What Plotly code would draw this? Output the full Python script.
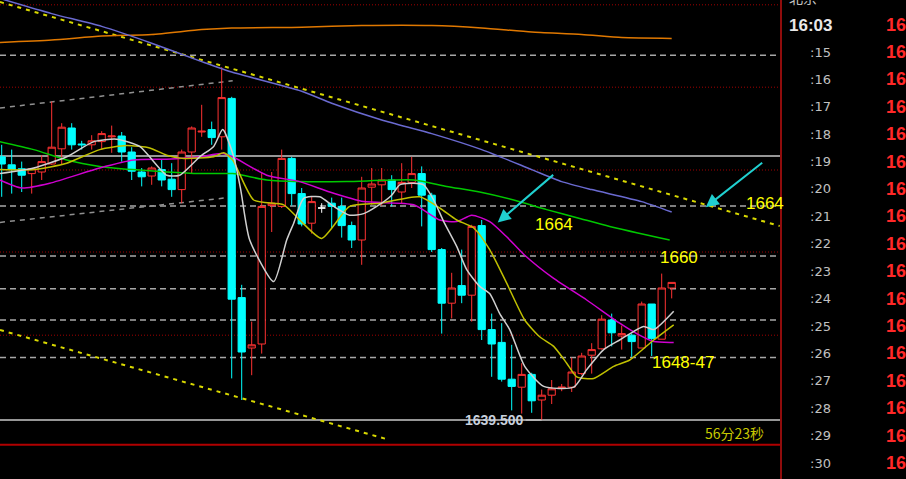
import plotly.graph_objects as go

# ---------------- data ----------------
idx = list(range(68))
opens = [1672.4, 1671.4, 1670.9, 1670.3, 1670.5, 1671.5, 1673.4, 1676.0, 1674.0, 1673.9,
         1674.3, 1674.9, 1675.0, 1673.0, 1670.5, 1670.0, 1670.8, 1669.6, 1668.3, 1673.0,
         1675.5, 1675.8, 1674.9, 1679.7, 1654.8, 1648.5, 1649.0, 1666.3, 1666.2, 1672.2,
         1667.8, 1664.1, 1666.0, 1666.6, 1666.2, 1663.8, 1662.0, 1668.6, 1668.9, 1669.5,
         1668.0, 1669.2, 1670.3, 1667.6, 1660.8, 1654.1, 1656.3, 1655.1, 1663.8, 1650.8,
         1649.2, 1644.6, 1643.6, 1645.2, 1642.0, 1642.6, 1643.5, 1643.6, 1645.3, 1647.6,
         1648.4, 1652.0, 1650.0, 1650.1, 1648.5, 1654.0, 1649.6, 1656.0]
highs = [1673.9, 1673.3, 1671.8, 1671.0, 1672.6, 1679.3, 1676.6, 1676.6, 1674.4, 1675.1,
         1675.6, 1676.3, 1675.5, 1673.6, 1671.0, 1671.2, 1672.0, 1671.6, 1673.3, 1676.2,
         1678.9, 1676.8, 1683.6, 1679.9, 1656.4, 1651.8, 1670.5, 1670.5, 1673.3, 1672.4,
         1668.5, 1667.4, 1666.6, 1667.3, 1667.3, 1664.3, 1669.9, 1671.0, 1671.0, 1670.1,
         1671.6, 1672.4, 1671.2, 1667.9, 1661.0, 1657.9, 1660.8, 1663.9, 1664.5, 1652.8,
         1651.6, 1648.9, 1646.6, 1645.4, 1643.3, 1644.5, 1644.0, 1647.3, 1647.9, 1649.1,
         1652.6, 1652.8, 1651.3, 1650.3, 1654.3, 1654.0, 1657.8, 1656.7]
lows = [1667.4, 1667.8, 1668.0, 1667.8, 1669.5, 1671.4, 1671.5, 1673.3, 1673.3, 1673.3,
        1673.3, 1672.9, 1671.8, 1669.5, 1668.7, 1668.9, 1668.7, 1667.4, 1666.6, 1670.3,
        1674.9, 1673.9, 1673.3, 1644.7, 1642.0, 1645.1, 1647.8, 1663.0, 1666.0, 1666.3,
        1663.7, 1662.8, 1665.4, 1663.5, 1662.3, 1661.0, 1658.9, 1666.4, 1666.3, 1666.2,
        1666.6, 1668.5, 1663.7, 1660.5, 1650.3, 1652.2, 1654.1, 1651.8, 1649.5, 1644.9,
        1644.3, 1640.7, 1640.3, 1640.4, 1639.5, 1641.5, 1643.1, 1643.0, 1645.1, 1645.3,
        1648.3, 1648.7, 1648.3, 1647.4, 1648.5, 1647.5, 1649.6, 1654.7]
closes = [1671.5, 1670.8, 1670.1, 1670.9, 1671.8, 1673.6, 1676.1, 1673.9, 1673.9, 1674.4,
          1675.3, 1675.0, 1673.0, 1670.6, 1669.9, 1671.0, 1669.5, 1668.3, 1673.0, 1676.0,
          1675.6, 1674.8, 1679.8, 1654.6, 1648.0, 1648.9, 1666.2, 1666.6, 1672.2, 1667.8,
          1664.0, 1666.8, 1666.0, 1666.2, 1663.8, 1662.0, 1668.5, 1669.0, 1669.5, 1668.3,
          1669.2, 1670.3, 1667.6, 1660.8, 1654.1, 1656.0, 1655.1, 1663.7, 1650.8, 1649.0,
          1644.6, 1643.7, 1645.2, 1641.9, 1642.6, 1643.4, 1643.6, 1645.5, 1647.5, 1648.3,
          1652.1, 1650.4, 1650.3, 1649.3, 1654.0, 1649.7, 1656.0, 1656.7]
white_doji = [32]

# moving averages (sampled along the bar index)
ma_orange_x = [-0.2, 5, 10, 15, 20, 23, 30, 36, 43, 48, 53, 58, 62, 67]
ma_orange_y = [1686.7, 1687.0, 1687.5, 1687.7, 1688.3, 1688.5, 1688.6, 1688.8, 1688.8, 1688.5,
               1688.0, 1687.7, 1687.3, 1687.2]
ma_blue_x = [-0.2, 5, 10, 15, 20, 23, 30, 33, 38, 43, 48, 53, 56, 59, 64, 67]
ma_blue_y = [1692.2, 1690.3, 1688.7, 1686.6, 1684.3, 1683.0, 1680.6, 1679.1, 1677.0, 1675.3,
             1673.3, 1670.8, 1669.3, 1668.3, 1666.8, 1665.5]
ma_green_x = [-0.2, 3.2, 6.5, 9.8, 13.1, 16.5, 19.8, 23.1, 26.5, 29.8, 34.5, 41.2, 44.5, 47.8,
              51.2, 54.5, 57.8, 60.8, 66.8]
ma_green_y = [1674.3, 1673.3, 1672.0, 1671.2, 1670.8, 1670.5, 1670.3, 1670.3, 1669.5, 1669.3,
              1669.3, 1669.5, 1668.7, 1668.0, 1667.0, 1665.8, 1664.7, 1663.7, 1662.0]
ma_magenta_x = [-0.2, 2.0, 4.8, 9.8, 13.2, 16.5, 19.8, 22.0, 23.1, 26.5, 29.8, 32.8, 36.2, 41.2,
                43.8, 45.5, 47.0, 48.8, 50.5, 52.3, 55.2, 58.5, 61.8, 63.5, 65.2, 67.2]
ma_magenta_y = [1669.5, 1668.5, 1669.1, 1671.0, 1672.0, 1672.1, 1672.4, 1672.8, 1672.4, 1670.1,
                1669.3, 1668.0, 1666.8, 1666.4, 1664.5, 1664.3, 1665.1, 1664.3, 1662.4, 1660.1,
                1657.2, 1654.5, 1651.6, 1650.3, 1649.3, 1649.2]
ma_olive_x = [-0.2, 3.2, 6.5, 9.8, 12.5, 14.8, 16.5, 18.2, 21.2, 22.2, 23.1, 25.2, 28.2, 29.8,
              32.0, 34.8, 37.8, 41.8, 43.8, 45.5, 47.2, 48.8, 50.5, 52.3, 53.8, 55.2, 56.5,
              57.5, 59.2, 61.2, 62.8, 65.2, 67.2]
ma_olive_y = [1670.8, 1670.8, 1671.6, 1673.3, 1673.8, 1673.5, 1672.6, 1672.2, 1672.4, 1672.9,
              1672.0, 1667.0, 1666.4, 1664.5, 1662.2, 1666.2, 1666.6, 1667.4, 1666.0, 1664.5,
              1663.5, 1660.8, 1656.6, 1652.0, 1649.9, 1648.7, 1646.6, 1644.9, 1644.7, 1646.2,
              1647.0, 1649.5, 1651.4]
ma_white_x = [-0.2, 3.2, 6.5, 9.2, 11.5, 13.8, 16.5, 17.8, 19.8, 21.2, 22.1, 23.2, 23.9, 24.8,
              27.2, 28.5, 29.2, 30.2, 31.8, 33.2, 34.8, 36.2, 37.5, 39.0, 39.8, 41.2, 42.2,
              43.2, 44.2, 45.5, 46.5, 47.8, 48.8, 49.8, 50.8, 52.3, 54.2, 57.2, 58.5, 60.2,
              61.8, 64.2, 65.2, 67.2]
ma_white_y = [1670.3, 1671.0, 1672.4, 1674.3, 1674.6, 1673.7, 1670.1, 1670.1, 1672.4, 1673.7,
              1675.8, 1672.4, 1668.3, 1662.0, 1656.8, 1662.0, 1664.1, 1667.2, 1667.4, 1666.2,
              1665.1, 1665.3, 1666.2, 1667.6, 1668.9, 1669.1, 1668.9, 1667.0, 1664.3, 1661.2,
              1658.3, 1656.2, 1655.3, 1652.8, 1650.8, 1646.2, 1643.7, 1643.6, 1645.8, 1648.3,
              1649.5, 1651.2, 1650.8, 1653.1]

# drawn levels
gray_dash_levels = [1685.1, 1666.25, 1660.0, 1655.9, 1652.0, 1647.3]
red_dot_levels = [1691.4, 1681.1, 1670.75, 1660.5, 1650.1]
white_levels = [1672.5, 1639.5]
bottom_level = 1636.4
yellow_trend_upper = ([-0.17, 77.8], [1691.75, 1663.75])
yellow_trend_lower = ([-0.17, 38.8], [1650.75, 1637.0])
gray_channel_upper = ([-0.17, 23.1], [1678.5, 1681.9])
gray_channel_lower = ([-0.17, 22.3], [1664.2, 1667.25])

time_labels = [":15", ":16", ":17", ":18", ":19", ":20", ":21", ":22", ":23", ":24",
               ":25", ":26", ":27", ":28", ":29", ":30"]
right_prices = ["1651.5", "1651.6", "1651.4", "1651.8", "1651.7", "1651.5", "1651.9", "1651.6",
                "1651.3", "1651.5", "1651.8", "1651.6", "1651.4", "1651.7", "1651.5", "1651.6",
                "1651.5"]

# ---------------- figure ----------------
X0, X1 = -0.17, 77.83
Y0, Y1 = 1632.125, 1692.0
RED = "#ff3232"
CYAN = "#00ffff"

fig = go.Figure()

main = [i for i in idx if i not in white_doji]
fig.add_trace(go.Candlestick(
    x=main, open=[opens[i] for i in main], high=[highs[i] for i in main],
    low=[lows[i] for i in main], close=[closes[i] for i in main],
    increasing=dict(line=dict(color=RED, width=1), fillcolor="#000000"),
    decreasing=dict(line=dict(color=CYAN, width=1), fillcolor=CYAN),
    whiskerwidth=0, hoverinfo="skip", showlegend=False))
fig.add_trace(go.Candlestick(
    x=white_doji, open=[opens[i] for i in white_doji], high=[highs[i] for i in white_doji],
    low=[lows[i] for i in white_doji], close=[closes[i] for i in white_doji],
    increasing=dict(line=dict(color="#ffffff", width=1), fillcolor="#ffffff"),
    decreasing=dict(line=dict(color="#ffffff", width=1), fillcolor="#ffffff"),
    whiskerwidth=0, hoverinfo="skip", showlegend=False))

def ma(xs, ys, color, w=1.5):
    fig.add_trace(go.Scatter(x=xs, y=ys, mode="lines",
                             line=dict(color=color, width=w, shape="spline", smoothing=0.6),
                             hoverinfo="skip", showlegend=False))

ma(ma_orange_x, ma_orange_y, "#e07800")
ma(ma_blue_x, ma_blue_y, "#6a6ad0")
ma(ma_green_x, ma_green_y, "#00c800")
ma(ma_magenta_x, ma_magenta_y, "#d000d0")
ma(ma_olive_x, ma_olive_y, "#c0c000")
ma(ma_white_x, ma_white_y, "#d0d0d0")

shapes = []
for lv in red_dot_levels:
    shapes.append(dict(type="line", xref="paper", x0=0, x1=1, yref="y", y0=lv, y1=lv,
                       line=dict(color="#a00000", width=1, dash="1px,2px"), layer="below"))
for lv in gray_dash_levels:
    shapes.append(dict(type="line", xref="paper", x0=0, x1=1, yref="y", y0=lv, y1=lv,
                       line=dict(color="#a8a8a8", width=1.5, dash="6px,4px"), layer="below"))
for lv in white_levels:
    shapes.append(dict(type="line", xref="paper", x0=0, x1=1, yref="y", y0=lv, y1=lv,
                       line=dict(color="#c8c8c8", width=1.5), layer="below"))
shapes.append(dict(type="line", xref="paper", x0=0, x1=1, yref="y", y0=bottom_level, y1=bottom_level,
                   line=dict(color="#b00000", width=2)))
for (xs, ys) in [yellow_trend_upper, yellow_trend_lower]:
    shapes.append(dict(type="line", xref="x", yref="y", x0=xs[0], x1=xs[1], y0=ys[0], y1=ys[1],
                       line=dict(color="#d8d800", width=2, dash="4px,5px"), layer="below"))
for (xs, ys) in [gray_channel_upper, gray_channel_lower]:
    shapes.append(dict(type="line", xref="x", yref="y", x0=xs[0], x1=xs[1], y0=ys[0], y1=ys[1],
                       line=dict(color="#909090", width=1.5, dash="5px,5px"), layer="below"))
# panel divider
shapes.append(dict(type="line", xref="paper", yref="paper", x0=781/780, x1=781/780, y0=0, y1=1,
                   line=dict(color="#c01010", width=1.5)))

ann = []
LBL = dict(family="Liberation Sans, Arial, sans-serif", size=17, color="#ffff00")
ann.append(dict(x=55.2, y=1664.0, text="1664", showarrow=False, font=LBL))
ann.append(dict(x=76.3, y=1666.6, text="1664", showarrow=False, font=LBL))
ann.append(dict(x=67.7, y=1659.8, text="1660", showarrow=False, font=LBL))
ann.append(dict(x=68.1, y=1646.7, text="1648-47", showarrow=False, font=LBL))
ann.append(dict(x=73.3, y=1637.9, text="56分23秒", showarrow=False,
                font=dict(family="Noto Sans CJK SC, sans-serif", size=14, color="#c8c800")))
# low marker
ann.append(dict(x=54, y=1639.5, ax=-47, ay=0, text="<b>1639.500</b>", showarrow=True,
                arrowhead=0, arrowwidth=1, arrowcolor="#d0d0d0",
                font=dict(family="Liberation Sans, Arial, sans-serif", size=14, color="#c8d0dc")))
# cyan arrows
ann.append(dict(x=49.6, y=1664.2, ax=55.3, ay=1670.3, axref="x", ayref="y", text="", showarrow=True,
                arrowhead=2, arrowsize=1.3, arrowwidth=2, arrowcolor="#20d0d0"))
ann.append(dict(x=70.4, y=1666.1, ax=76.2, ay=1671.8, axref="x", ayref="y", text="", showarrow=True,
                arrowhead=2, arrowsize=1.3, arrowwidth=2, arrowcolor="#20d0d0"))

# right panel
def py(pix):
    return 1 - pix / 479.0

def pann(xpix, ypix, text, font, xanchor="center"):
    ann.append(dict(xref="paper", yref="paper", x=xpix / 780, y=py(ypix), text=text,
                    showarrow=False, xanchor=xanchor, yanchor="middle", font=font))

pann(803, -3, "北京", dict(family="Noto Sans CJK SC, sans-serif", size=14, color="#c0c0c0"))
pann(810, 25, "<b>16:03</b>", dict(family="Liberation Sans, Arial, sans-serif", size=17, color="#e8e8e8"))
RFONT = dict(family="Liberation Sans, Arial, sans-serif", size=18, color="#ff2828")
pann(884, 25, "<b>%s</b>" % right_prices[0], RFONT, xanchor="left")
for k, t in enumerate(time_labels):
    yy = 52 + k * 27.4
    pann(820, yy, t, dict(family="DejaVu Sans, sans-serif", size=13, color="#c0c0c0"))
    pann(884, yy, "<b>%s</b>" % right_prices[k + 1], RFONT, xanchor="left")

fig.update_layout(
    width=906, height=479,
    margin=dict(l=0, r=126, t=0, b=0),
    paper_bgcolor="#000000", plot_bgcolor="#000000",
    boxgap=0.15, boxgroupgap=0.15,
    xaxis=dict(range=[X0, X1], visible=False, rangeslider=dict(visible=False), fixedrange=True),
    yaxis=dict(range=[Y0, Y1], visible=False, fixedrange=True),
    shapes=shapes, annotations=ann, hovermode=False, showlegend=False,
)
fig.write_html("out.html", config={"displayModeBar": False},
               post_script="document.body.style.margin='0px';document.body.style.overflow='hidden';document.body.style.background='#000';")
